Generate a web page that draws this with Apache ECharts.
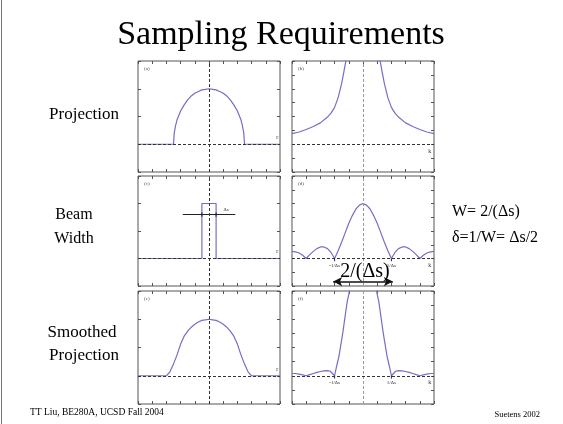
<!DOCTYPE html>
<html>
<head>
<meta charset="utf-8">
<title>Sampling Requirements</title>
<script src="https://cdn.jsdelivr.net/npm/echarts@6/dist/echarts.min.js"></script>
<style>
html, body { margin: 0; padding: 0; background: #fff; }
#main { width: 563px; height: 424px; }
</style>
</head>
<body>
<div id="main"></div>
<script>
// (a) projection of the disk
var projX = [-1, -0.5, -0.49, -0.47, -0.45, -0.4, -0.35, -0.3, -0.25, -0.2, -0.15, -0.1, -0.05, 0,
             0.05, 0.1, 0.15, 0.2, 0.25, 0.3, 0.35, 0.4, 0.45, 0.47, 0.49, 0.5, 1];
var projY = [0, 0, 0.2, 0.34, 0.44, 0.6, 0.71, 0.8, 0.87, 0.92, 0.95, 0.98, 0.99, 1,
             0.99, 0.98, 0.95, 0.92, 0.87, 0.8, 0.71, 0.6, 0.44, 0.34, 0.2, 0, 0];
// (b) its spectrum
var rampX = [-1, -0.9, -0.8, -0.7, -0.6, -0.5, -0.45, -0.4, -0.35, -0.3, -0.27, -0.24, -0.2,
             0.2, 0.24, 0.27, 0.3, 0.35, 0.4, 0.45, 0.5, 0.6, 0.7, 0.8, 0.9, 1];
var rampY = [0.19, 0.22, 0.265, 0.32, 0.385, 0.49, 0.56, 0.665, 0.84, 1.1, 1.3, 1.51, 1.9,
             1.9, 1.51, 1.3, 1.1, 0.84, 0.665, 0.56, 0.49, 0.385, 0.32, 0.265, 0.22, 0.19];
// (c) beam profile, width ds
var beamX = [-1, -0.1, -0.1, 0.1, 0.1, 1];
var beamY = [0, 0, 1, 1, 0, 0];
// (d) beam spectrum
var sincX = [-1, -0.95, -0.9, -0.85, -0.8, -0.75, -0.7, -0.65, -0.6, -0.55, -0.5, -0.45, -0.4, -0.35,
             -0.3, -0.25, -0.2, -0.15, -0.1, -0.05, 0, 0.05, 0.1, 0.15, 0.2, 0.25, 0.3, 0.35, 0.4,
             0.45, 0.5, 0.55, 0.6, 0.65, 0.7, 0.75, 0.8, 0.85, 0.9, 0.95, 1];
var sincY = [0.13, 0.12, 0.10, 0.06, 0, 0.07, 0.13, 0.18, 0.21, 0.21, 0.18, 0.11, 0, 0.14,
             0.30, 0.47, 0.64, 0.78, 0.90, 0.97, 1, 0.97, 0.90, 0.78, 0.64, 0.47, 0.30, 0.14, 0,
             0.11, 0.18, 0.21, 0.21, 0.18, 0.13, 0.07, 0, 0.06, 0.10, 0.12, 0.13];
// (e) smoothed projection
var smoothX = [-1, -0.6, -0.55, -0.5, -0.45, -0.4, -0.35, -0.3, -0.25, -0.2, -0.15, -0.1, -0.05, 0,
               0.05, 0.1, 0.15, 0.2, 0.25, 0.3, 0.35, 0.4, 0.45, 0.5, 0.55, 0.6, 1];
var smoothY = [0, 0, 0.07, 0.21, 0.37, 0.56, 0.70, 0.79, 0.86, 0.91, 0.95, 0.98, 0.99, 1,
               0.99, 0.98, 0.95, 0.91, 0.86, 0.79, 0.70, 0.56, 0.37, 0.21, 0.07, 0, 0];
// (f) spectrum of the smoothed projection
var filtX = [-1, -0.95, -0.9, -0.85, -0.8, -0.75, -0.7, -0.65, -0.6, -0.55, -0.5, -0.46, -0.43, -0.4,
             -0.38, -0.36, -0.34, -0.32, -0.3, -0.28, -0.26, -0.24, -0.22, -0.2, -0.17,
             0.17, 0.2, 0.22, 0.24, 0.26, 0.28, 0.3, 0.32, 0.34, 0.36, 0.38,
             0.4, 0.43, 0.46, 0.5, 0.55, 0.6, 0.65, 0.7, 0.75, 0.8, 0.85, 0.9, 0.95, 1];
var filtY = [0.04, 0.04, 0.03, 0.015, 0, 0.02, 0.04, 0.06, 0.075, 0.085, 0.09, 0.08, 0.04, 0,
             0.12, 0.23, 0.34, 0.49, 0.64, 0.8, 0.98, 1.16, 1.33, 1.44, 1.7,
             1.7, 1.44, 1.33, 1.16, 0.98, 0.8, 0.64, 0.49, 0.34, 0.23, 0.12,
             0, 0.04, 0.08, 0.09, 0.085, 0.075, 0.06, 0.04, 0.02, 0, 0.015, 0.03, 0.04, 0.04];

var panelNames = ['(a)', '(b)', '(c)', '(d)', '(e)', '(f)'];
var curvesX = [projX, rampX, beamX, sincX, smoothX, filtX];
var curvesY = [projY, rampY, beamY, sincY, smoothY, filtY];

var chart = echarts.init(document.getElementById('main'));
var serif = '"Liberation Serif", "Times New Roman", serif';
var purple = '#7b6bc8';

// [left, top, width, height] of each panel
var boxes = [
    [138, 61, 142, 111], [292, 61, 142, 111],
    [138, 176, 142, 110], [292, 176, 142, 110],
    [138, 291, 142, 113], [292, 291, 142, 113]
];

function zip(xs, ys) {
    return xs.map(function (x, k) { return [x, ys[k]]; });
}

var grid = [], xAxis = [], yAxis = [], series = [], graphic = [];

boxes.forEach(function (b, i) {
    var right = i % 2 == 1;
    grid.push({
        left: b[0], top: b[1], width: b[2], height: b[3],
        show: true, borderColor: '#555', borderWidth: 1
    });
    ['bottom', 'top'].forEach(function (p) {
        xAxis.push({
            gridIndex: i, type: 'value', position: p, min: -1, max: 1, interval: 0.2,
            axisLine: { show: false, onZero: false },
            axisLabel: { show: false }, splitLine: { show: false },
            axisTick: { show: true, inside: true, length: 3, lineStyle: { color: '#555' } }
        });
    });
    ['left', 'right'].forEach(function (p) {
        yAxis.push({
            gridIndex: i, type: 'value', position: p, min: -0.5, max: 1.5,
            interval: right ? 0.25 : 0.5,
            axisLine: { show: false, onZero: false },
            axisLabel: { show: false }, splitLine: { show: false },
            axisTick: { show: true, inside: true, length: 3, lineStyle: { color: '#555' } }
        });
    });

    series.push({
        type: 'line', xAxisIndex: 2 * i, yAxisIndex: 2 * i,
        data: zip(curvesX[i], curvesY[i]),
        showSymbol: false, clip: true, silent: true,
        lineStyle: { color: purple, width: 1.2 },
        markLine: {
            silent: true, symbol: ['none', 'none'], label: { show: false },
            data: [
                { xAxis: 0, lineStyle: { type: [3, 2], color: right ? '#999' : '#333', width: 1 } },
                { yAxis: 0, lineStyle: { type: [3, 2], color: '#333', width: 1 } }
            ]
        },
        markPoint: {
            silent: true, symbol: 'circle', symbolSize: 1, itemStyle: { color: 'transparent' },
            data: [{
                coord: right ? [0.94, -0.04] : [0.96, 0.04],
                label: {
                    show: true, position: right ? 'bottom' : 'top', distance: 1,
                    formatter: right ? 'k' : 'r', fontSize: 6, color: '#333', fontFamily: serif
                }
            }]
        },
        z: 3
    });

    graphic.push({
        type: 'text', left: b[0] + 6, top: b[1] + 5,
        style: { text: panelNames[i], font: '5px ' + serif, fill: '#444' }
    });
});

function seg(i, pts, color, width, extra) {
    var s = {
        type: 'line', xAxisIndex: 2 * i, yAxisIndex: 2 * i, data: pts,
        showSymbol: false, silent: true,
        lineStyle: { color: color, width: width }, z: 4
    };
    for (var k in extra) s[k] = extra[k];
    series.push(s);
}

function tickLabel(txt, pos) {
    return {
        coord: pos,
        label: {
            show: true, position: 'bottom', distance: 1,
            formatter: txt, fontSize: 5, color: '#333', fontFamily: serif
        }
    };
}

// ds marker in (c)
seg(2, [[-0.37, 0.8], [0.37, 0.8]], '#222', 1, {
    markPoint: {
        silent: true, symbol: 'circle', symbolSize: 1, itemStyle: { color: 'transparent' },
        data: [{
            coord: [0.24, 0.82],
            label: { show: true, position: 'top', distance: 1, formatter: 'Δs', fontSize: 5, color: '#333', fontFamily: serif }
        }]
    }
});
seg(2, [[-0.1, 0.76], [-0.1, 0.84]], '#222', 1);
seg(2, [[0.1, 0.76], [0.1, 0.84]], '#222', 1);

// zero marks at +-1/ds in (d) and (f)
[3, 5].forEach(function (i) {
    seg(i, [[-0.4, 0], [-0.4, -0.05]], '#222', 1, {
        markPoint: {
            silent: true, symbol: 'circle', symbolSize: 1, itemStyle: { color: 'transparent' },
            data: [tickLabel('-1/Δs', [-0.4, -0.05]), tickLabel('1/Δs', [0.4, -0.05])]
        }
    });
    seg(i, [[0.4, 0], [0.4, -0.05]], '#222', 1);
});

// 2/(ds) arrow in (d)
series.push({
    type: 'line', xAxisIndex: 6, yAxisIndex: 6, data: [], silent: true,
    markLine: {
        silent: true, symbol: ['arrow', 'arrow'], symbolSize: [7, 9],
        label: { show: false },
        lineStyle: { type: 'solid', color: '#111', width: 1.6 },
        data: [[{ coord: [-0.42, -0.42] }, { coord: [0.42, -0.42] }]]
    }
});

function txt(x, y, s, size, align) {
    graphic.push({
        type: 'text', x: x, y: y,
        style: {
            text: s, font: size + 'px ' + serif, fill: '#000',
            textAlign: align || 'center', textVerticalAlign: 'middle'
        },
        z: 10
    });
}

txt(281, 35, 'Sampling Requirements', 34);
txt(84, 115, 'Projection', 17);
txt(74, 215, 'Beam', 16);
txt(74, 239, 'Width', 16);
txt(82, 333, 'Smoothed', 17);
txt(84, 356, 'Projection', 17);
txt(452, 212, 'W= 2/(Δs)', 16, 'left');
txt(452, 238, 'δ=1/W= Δs/2', 16, 'left');
txt(365, 272, '2/(Δs)', 20);
txt(30, 412, 'TT Liu, BE280A, UCSD Fall 2004', 9.5, 'left');
txt(540, 415, 'Suetens 2002', 8.5, 'right');

graphic.push({
    type: 'line', shape: { x1: 1.5, y1: 0, x2: 1.5, y2: 424 },
    style: { stroke: '#777', lineWidth: 1 }
});

chart.setOption({
    backgroundColor: '#fff',
    animation: false,
    grid: grid,
    xAxis: xAxis,
    yAxis: yAxis,
    series: series,
    graphic: graphic
});
</script>
</body>
</html>
